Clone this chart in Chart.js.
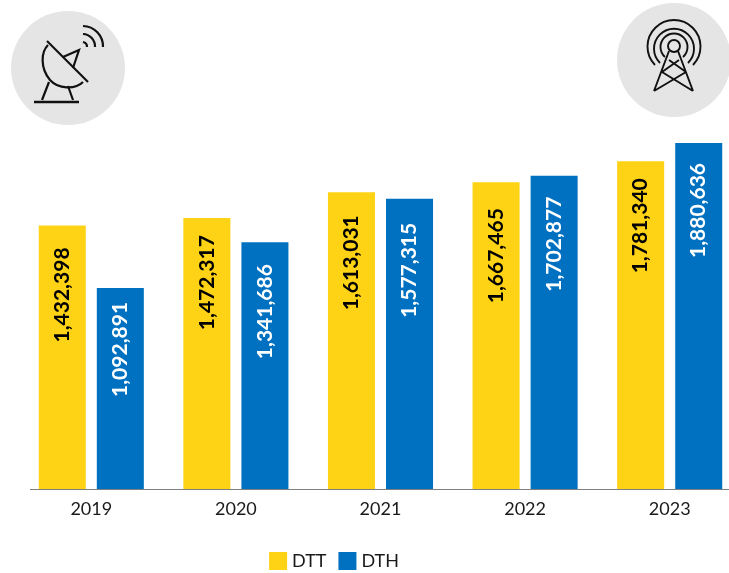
<!DOCTYPE html>
<html><head><meta charset="utf-8">
<style>
html,body{margin:0;padding:0;background:#fff;width:729px;height:573px;overflow:hidden;position:relative}
#wrap{position:absolute;left:-70px;top:0;width:812px;height:580px}
svg{position:absolute}
</style>
<script src="https://cdn.jsdelivr.net/npm/chart.js@4"></script>
</head><body>
<div id="wrap"><canvas id="c" width="812" height="580"></canvas></div>
<svg style="left:0;top:0" width="140" height="130" viewBox="0 0 140 130" fill="none" stroke="#111" stroke-width="2.2">
<circle cx="68" cy="68" r="57" fill="#e5e5e5" stroke="none"/>
<path d="M47 41 L88 82"/><path d="M48 45 C41 52 40 68 50 80 C58 89 75 90 83 82"/>
<path d="M63 57 L79 50 L73 68"/><path d="M49 82 L42 100 M68 86 L73 100"/><path d="M34 102 H79" stroke-width="2.4"/>
<path d="M83 42 a5 5 0 0 1 4 5"/><path d="M83 34 a12.5 12.5 0 0 1 12 13"/><path d="M83 26 a20.5 20.5 0 0 1 20 21"/>
</svg>
<svg style="left:610px;top:0" width="119" height="125" viewBox="0 0 119 125" fill="none" stroke="#111" stroke-width="1.9">
<circle cx="64" cy="60" r="57" fill="#e5e5e5" stroke="none"/>
<circle cx="64" cy="46" r="6"/>
<path d="M55 57 A13.5 13.5 0 1 1 73 57"/><path d="M50 63 A20 20 0 1 1 78 63"/><path d="M45 65 A26.5 26.5 0 1 1 83 65"/>
<path d="M59 51 L44 91 M68 51 L83 91 M59 60 L76 72 M69 60 L52 72 M52 72 L83 91 M76 72 L44 91"/>
</svg>
<script>
const categories = ['2019','2020','2021','2022','2023'];
const dtt = [1432398,1472317,1613031,1667465,1781340];
const dth = [1092891,1341686,1577315,1702877,1880636];
const dttLabelInset = [22,17,23,26,17];
const dthLabelInset = [14,22,24,21,20];
const insets = [dttLabelInset,dthLabelInset];
const labelPlugin = {
  id:'barLabels',
  afterDatasetsDraw(chart){
    const g = chart.ctx;
    chart.data.datasets.forEach((ds,i)=>{
      chart.getDatasetMeta(i).data.forEach((bar,j)=>{
        g.save();
        g.translate(bar.x, bar.y+insets[i][j]);
        g.rotate(-Math.PI/2);
        g.textAlign='right'; g.textBaseline='middle';
        g.font='700 21px Lato';
        g.fillStyle = i===0 ? '#000' : '#fff';
        g.fillText(ds.data[j].toLocaleString('en-US'),0,0);
        g.restore();
      });
    });
  }
};
const axisPlugin = {
  id:'baseLine',
  afterDraw(chart){
    const g = chart.ctx, y = chart.scales.y.getPixelForValue(0);
    g.save(); g.strokeStyle='#808080'; g.lineWidth=1;
    g.beginPath(); g.moveTo(100,Math.round(y)+0.5); g.lineTo(812,Math.round(y)+0.5); g.stroke(); g.restore();
  }
};
new Chart(document.getElementById('c'),{
  type:'bar',
  data:{labels:categories,datasets:[
    {label:'DTT',data:dtt,backgroundColor:'#fed215'},
    {label:'DTH',data:dth,backgroundColor:'#0071c1'}
  ]},
  plugins:[labelPlugin,axisPlugin],
  options:{
    responsive:false,animation:false,
    layout:{padding:{left:0,right:0,top:121,bottom:0}},
    datasets:{bar:{categoryPercentage:0.803,barPercentage:0.81}},
    scales:{
      x:{grid:{display:false},border:{display:false},
         ticks:{color:'#1a1a1a',font:{family:'Lato',size:18},padding:1,maxRotation:0},
         afterFit(s){s.height=47;}},
      y:{display:true,min:0,max:2000000,grid:{display:false},border:{display:false},ticks:{display:false},
         afterFit(s){s.width=89;}}
    },
    plugins:{
      legend:{position:'bottom',labels:{boxWidth:10,boxHeight:10,padding:16,color:'#1a1a1a',font:{family:'Lato',size:18},
        generateLabels(chart){
          return chart.data.datasets.map((d,i)=>({text:d.label,fillStyle:d.backgroundColor,strokeStyle:d.backgroundColor,lineWidth:8,lineJoin:'miter',datasetIndex:i,fontColor:'#1a1a1a'}));
        }}},
      tooltip:{enabled:false}
    }
  }
});
</script>
</body></html>
